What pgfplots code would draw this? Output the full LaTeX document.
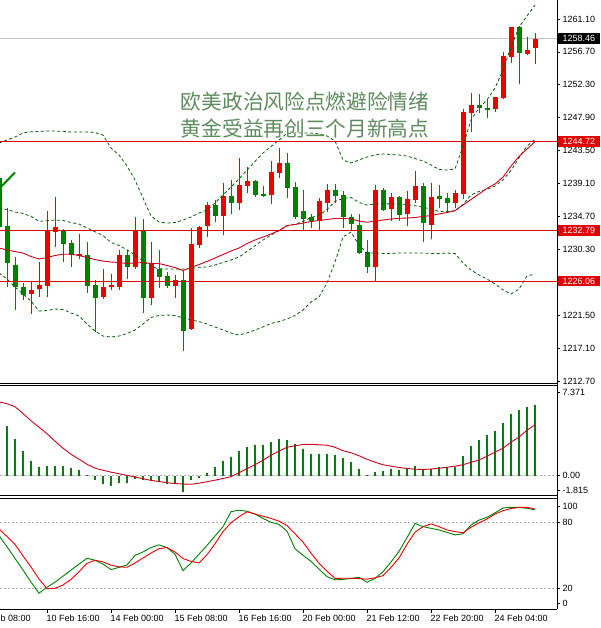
\documentclass[border=0pt]{standalone}
\usepackage{fontspec}
\setmainfont{Liberation Sans}
\newfontfamily\cjk{Noto Sans CJK SC}
\usepackage{pgfplots}
\pgfplotsset{compat=1.18}
\usepackage{pgfplotstable}

\definecolor{cR}{RGB}{235,0,0}
\definecolor{cG}{RGB}{0,128,0}
\definecolor{cBB}{RGB}{0,95,0}
\definecolor{cMA}{RGB}{205,0,25}
\definecolor{cLine}{RGB}{225,0,0}
\definecolor{cTxt}{RGB}{95,140,95}
\newcommand\lab{\fontsize{9}{10}\selectfont}

\pgfplotstableread{
x O H L C
3 1224.33 1225.94 1221.66 1224.87
4 1225.00 1228.61 1223.93 1225.53
5 1225.40 1235.43 1223.93 1232.75
6 1232.62 1237.30 1230.61 1233.29
9 1229.41 1232.35 1229.01 1229.68
12 1223.93 1227.67 1223.73 1225.27
13 1225.27 1227.00 1224.87 1225.47
14 1225.27 1230.21 1224.87 1229.55
16 1227.94 1234.63 1227.67 1232.89
18 1223.80 1231.28 1222.86 1228.48
21 1225.40 1226.87 1223.80 1226.14
23 1219.65 1233.16 1219.52 1231.02
24 1230.88 1233.42 1230.48 1233.29
25 1233.42 1236.63 1231.95 1236.23
27 1234.76 1239.17 1232.22 1237.43
29 1236.50 1242.52 1235.56 1238.90
30 1238.77 1241.31 1237.83 1239.44
33 1237.57 1242.11 1236.36 1240.64
34 1240.51 1243.85 1239.84 1241.85
39 1234.13 1237.13 1232.89 1236.81
40 1236.54 1239.04 1235.33 1238.24
46 1227.90 1238.90 1225.98 1238.24
48 1235.66 1237.79 1234.09 1237.30
50 1235.00 1238.10 1233.49 1236.99
51 1236.90 1240.82 1236.50 1238.77
53 1233.62 1239.13 1231.64 1237.34
56 1236.54 1238.24 1235.79 1237.77
57 1237.66 1249.03 1236.97 1248.71
58 1248.49 1251.17 1246.03 1249.60
61 1249.03 1250.71 1248.71 1250.63
62 1250.50 1256.73 1250.40 1256.15
63 1256.06 1260.07 1255.18 1259.99
65 1256.42 1258.73 1256.29 1256.96
66 1257.26 1259.27 1255.04 1258.46
}\redbars

\pgfplotstableread{
x O H L C
-1 1239.84 1240.20 1232.90 1233.29
0 1233.42 1235.83 1225.27 1228.48
1 1228.21 1229.28 1222.19 1225.27
2 1225.27 1225.80 1223.53 1224.20
7 1232.89 1233.02 1228.61 1231.02
8 1231.15 1231.55 1227.94 1229.55
10 1229.55 1231.28 1224.46 1225.40
11 1225.53 1226.20 1219.25 1223.80
15 1229.55 1230.21 1226.34 1227.94
17 1232.89 1234.36 1221.79 1223.80
19 1227.67 1230.21 1225.13 1226.60
20 1226.74 1227.27 1225.07 1225.40
22 1226.20 1227.54 1216.71 1219.38
26 1236.23 1236.90 1233.96 1234.76
28 1237.43 1239.51 1235.03 1236.50
31 1239.44 1239.57 1237.30 1237.57
32 1237.70 1238.77 1237.30 1237.50
35 1241.85 1243.12 1237.23 1238.57
36 1238.64 1239.31 1234.36 1234.63
37 1235.43 1238.24 1232.89 1234.36
38 1234.56 1235.03 1233.12 1234.13
41 1238.24 1239.04 1236.50 1237.43
42 1237.57 1238.10 1233.16 1234.67
43 1234.69 1235.03 1232.75 1233.65
44 1233.56 1235.03 1229.68 1229.81
45 1229.99 1231.55 1227.14 1227.90
47 1238.24 1238.46 1235.47 1235.56
49 1237.34 1237.43 1234.09 1234.96
52 1238.77 1239.17 1231.22 1233.78
54 1237.50 1238.90 1235.79 1236.99
55 1237.13 1237.83 1235.33 1236.46
59 1249.60 1251.03 1248.49 1249.16
60 1249.24 1250.36 1247.82 1248.93
64 1260.07 1260.16 1252.37 1256.51
}\greenbars

\pgfplotstableread{
x up mid lo ma
-1 1244.52 1235.83 1227.14 1230.48
0 1244.92 1235.63 1226.34 1230.21
1 1245.32 1235.30 1225.27 1230.01
2 1245.86 1235.10 1224.33 1229.81
3 1246.03 1234.71 1223.39 1229.34
4 1246.06 1234.06 1222.06 1229.01
5 1246.12 1234.12 1222.12 1229.21
6 1246.12 1234.22 1222.32 1229.48
7 1246.06 1234.16 1222.26 1229.65
8 1245.99 1233.89 1221.79 1229.64
9 1245.99 1233.69 1221.39 1229.48
10 1245.99 1233.16 1220.32 1229.21
11 1245.92 1232.65 1219.38 1228.94
12 1245.59 1232.15 1218.71 1228.74
13 1243.85 1231.22 1218.58 1228.61
14 1242.92 1230.82 1218.71 1228.54
15 1241.44 1230.25 1219.05 1228.41
16 1239.57 1229.55 1219.52 1228.48
17 1237.17 1228.75 1220.32 1228.54
18 1234.76 1227.98 1221.19 1228.41
19 1233.96 1227.71 1221.46 1228.41
20 1233.82 1227.67 1221.52 1228.14
21 1233.89 1227.68 1221.46 1227.87
22 1234.22 1227.67 1221.12 1227.47
23 1234.63 1227.74 1220.85 1227.87
24 1235.16 1227.91 1220.65 1228.27
25 1235.56 1227.94 1220.32 1228.68
26 1236.50 1228.21 1219.92 1229.14
27 1237.57 1228.55 1219.52 1229.61
28 1238.64 1228.88 1219.12 1230.08
29 1239.71 1229.28 1218.85 1230.48
30 1240.91 1230.02 1219.12 1231.08
31 1242.05 1230.79 1219.52 1231.55
32 1243.18 1231.55 1219.92 1231.95
33 1244.05 1232.22 1220.39 1232.35
34 1244.92 1232.79 1220.65 1232.82
35 1245.82 1233.41 1220.99 1233.49
36 1245.86 1233.66 1221.46 1233.62
37 1245.86 1234.03 1222.19 1233.82
38 1245.86 1234.56 1223.26 1234.02
39 1245.72 1234.83 1223.93 1234.16
40 1245.46 1235.63 1225.80 1234.29
41 1244.79 1236.70 1228.61 1234.43
42 1242.25 1237.10 1231.95 1234.43
43 1241.85 1237.24 1232.62 1234.36
44 1242.25 1236.57 1230.88 1234.09
45 1242.65 1236.23 1229.81 1233.92
46 1242.92 1236.37 1229.81 1234.09
47 1243.05 1236.40 1229.75 1234.22
48 1242.98 1236.37 1229.75 1234.36
49 1242.92 1236.37 1229.81 1234.45
50 1242.78 1236.30 1229.81 1234.49
51 1242.45 1236.13 1229.81 1234.56
52 1242.11 1235.96 1229.81 1234.69
53 1241.58 1235.67 1229.75 1234.83
54 1240.98 1235.37 1229.75 1235.03
55 1240.91 1235.36 1229.81 1235.23
56 1241.04 1235.40 1229.75 1235.49
57 1244.12 1236.30 1228.48 1236.23
58 1247.60 1237.57 1227.54 1236.97
59 1249.20 1238.04 1226.87 1237.70
60 1250.27 1238.31 1226.34 1238.46
61 1251.87 1238.77 1225.67 1239.04
62 1254.28 1239.58 1224.87 1239.97
63 1257.36 1240.85 1224.33 1241.44
64 1260.03 1242.52 1225.00 1242.72
65 1261.50 1244.12 1226.74 1243.72
66 1262.97 1244.99 1227.00 1244.69
}\bands

\pgfplotstableread{
x h
0 4.12
1 3.03
2 2.03
3 1.19
4 0.67
5 0.78
6 0.83
7 0.78
8 0.64
9 0.44
10 0.03
11 -0.34
12 -0.67
13 -0.89
14 -0.62
15 -0.62
16 -0.25
17 -0.39
18 -0.39
19 -0.48
20 -0.67
21 -0.67
22 -1.37
23 -0.39
24 -0.17
25 0.25
26 0.67
27 1.25
28 1.56
29 2.03
30 2.39
31 2.51
32 2.59
33 2.81
34 3.03
35 2.95
36 2.60
37 2.25
38 1.78
39 1.78
40 1.78
41 1.70
42 1.47
43 1.14
44 0.58
45 0.03
46 0.31
47 0.39
48 0.53
49 0.50
50 0.64
51 0.78
52 0.58
53 0.58
54 0.67
55 0.67
56 0.72
57 1.61
58 2.45
59 2.95
60 3.37
61 3.70
62 4.40
63 5.18
64 5.51
65 5.73
66 5.87
}\macdhist

\pgfplotstableread{
x s
-1 6.15
0 6.00
1 5.75
2 5.18
3 4.58
4 4.04
5 3.49
6 2.87
7 2.28
8 1.78
9 1.36
10 0.94
11 0.61
12 0.44
13 0.28
14 0.15
15 0.01
16 -0.13
17 -0.27
18 -0.41
19 -0.50
20 -0.60
21 -0.67
22 -0.71
23 -0.73
24 -0.64
25 -0.52
26 -0.39
27 -0.25
28 -0.10
29 0.23
30 0.57
31 0.90
32 1.28
33 1.70
34 2.03
35 2.36
36 2.49
37 2.59
38 2.61
39 2.57
40 2.53
41 2.36
42 2.07
43 1.90
44 1.65
45 1.36
46 1.11
47 0.90
48 0.78
49 0.67
50 0.59
51 0.53
52 0.50
53 0.54
54 0.61
55 0.69
56 0.78
57 0.90
58 1.11
59 1.29
60 1.61
61 1.95
62 2.28
63 2.78
64 3.22
65 3.78
66 4.24
}\macdsig

\pgfplotstableread{
x K D
-1 68 74
0 57.7 67
1 47.2 59.8
2 36.6 49.5
3 25.7 39.4
4 15.5 28.5
5 21 19.6
6 25.5 20
7 31 23
8 36.5 28
9 42 35
10 47.3 42.7
11 45.5 45.5
12 42 44
13 37 41
14 39 39.5
15 41.2 39.1
16 50 43
17 53 47.5
18 57 52
19 59.5 56
20 57 57
21 51 53
22 36 47
23 43 44.5
24 51 43
25 59 50.5
26 67.5 60.5
27 76 71.5
28 89.6 79.5
29 91 85
30 90 89.5
31 87.5 87.5
32 83.5 85.5
33 80 83.5
34 78 81
35 72 77
36 56 69.5
37 50 62
38 44.5 52
39 37.5 42.7
40 30.5 35.5
41 27.7 29
42 28 29.1
43 29 29.1
44 30 28.8
45 25.5 28.3
46 29 29.5
47 35 31.5
48 44 39
49 53.5 47.5
50 66 60
51 79 71
52 76 76
53 74.5 78.5
54 73 76
55 70.8 73
56 68.5 71.5
57 69.5 70.5
58 77.5 75.5
59 82 79.5
60 84.5 83
61 88.5 87.5
62 93 90.5
63 93.6 92.5
64 93.5 93.6
65 92.7 93.6
66 91.3 92
}\stoch

\begin{document}
\begin{tikzpicture}
\path[use as bounding box] (0pt,0pt) rectangle (601pt,628pt);
\fill[white] (0pt,0pt) rectangle (601pt,628pt);
\pgfplotsset{
  mt/.style={scale only axis, width=557pt, anchor=south west,
    xmin=-0.875, xmax=68.75,
    axis line style={draw=none},
    tick align=outside, major tick length=3pt,
    ytick pos=right, xtick pos=left,
    tick style={black, line width=0.7pt},
    yticklabel style={font=\lab, inner xsep=2.5pt, anchor=west},
    xtick=\empty},
  wick/.style={only marks, mark=*, mark size=0pt, mark options={draw=none, fill=none}, forget plot,
    error bars/.cd, y dir=plus, y explicit, error mark=none,
    error bar style={draw=#1, line width=1pt, solid}},
  body/.style={only marks, mark=*, mark size=0pt, mark options={draw=none, fill=none}, forget plot,
    error bars/.cd, y dir=plus, y explicit, error mark=none,
    error bar style={draw=#1, line width=5pt, solid, line cap=butt}},
  bb/.style={cBB, line width=0.8pt, dash pattern=on 3pt off 2.5pt},
}
% ---------------- main chart ----------------
\begin{axis}[mt, at={(0pt,244pt)}, height=384pt,
  ymin=1212.30, ymax=1263.64,
  ytick={1212.70,1217.10,1221.50,1230.30,1234.70,1239.10,1243.50,1247.90,1252.30,1256.70,1261.10},
  yticklabels={1212.70,1217.10,1221.50,1230.30,1234.70,1239.10,1243.50,1247.90,1252.30,1256.70,1261.10}]
\addplot[gray!45, line width=0.8pt, forget plot] coordinates {(-0.875,1258.46) (68.75,1258.46)};
\addplot[wick=cR] table[x=x, y=L, y error expr=\thisrow{H}-\thisrow{L}] {\redbars};
\addplot[body=cR] table[x=x, y=O, y error expr=\thisrow{C}-\thisrow{O}] {\redbars};
\addplot[wick=cG] table[x=x, y=L, y error expr=\thisrow{H}-\thisrow{L}] {\greenbars};
\addplot[body=cG] table[x=x, y=C, y error expr=\thisrow{O}-\thisrow{C}] {\greenbars};
\addplot[bb] table[x=x, y=up] {\bands};
\addplot[bb] table[x=x, y=mid] {\bands};
\addplot[bb] table[x=x, y=lo] {\bands};
\addplot[cMA, line width=0.9pt] table[x=x, y=ma] {\bands};
\addplot[cLine, line width=0.9pt] coordinates {(-0.875,1244.72) (68.75,1244.72)};
\addplot[cLine, line width=0.9pt] coordinates {(-0.875,1232.79) (68.75,1232.79)};
\addplot[cLine, line width=0.9pt] coordinates {(-0.875,1226.06) (68.75,1226.06)};
\draw[cG, line width=2pt] (axis cs:-0.66,1238.77) -- (axis cs:1.0,1240.58);
\coordinate (b1) at (axis cs:68.75,1258.46);
\coordinate (b2) at (axis cs:68.75,1244.72);
\coordinate (b3) at (axis cs:68.75,1232.79);
\coordinate (b4) at (axis cs:68.75,1226.06);
\end{axis}
% ---------------- MACD ----------------
\begin{axis}[mt, at={(0pt,132.5pt)}, height=109.5pt,
  ymin=-1.67, ymax=7.48,
  ytick={-1.21,0,6.95}, yticklabels={-1.815,0.00,7.371}]
\addplot[gray!60, line width=0.7pt, dash pattern=on 2pt off 2pt, forget plot] coordinates {(-0.875,0) (68.75,0)};
\addplot[ycomb, cG, line width=1.6pt, mark=none] table[x=x, y=h] {\macdhist};
\addplot[cMA, line width=0.9pt, mark=none] table[x=x, y=s] {\macdsig};
\end{axis}
% ---------------- Stochastic ----------------
\begin{axis}[mt, at={(0pt,18.5pt)}, height=111pt,
  ymin=0.73, ymax=101.6,
  ytick={6.6,20,80,94.8}, yticklabels={0,20,80,100},
  xtick={5,13,21,29,37,45,53,61},
  xticklabels={10 Feb 16:00,14 Feb 00:00,15 Feb 08:00,16 Feb 16:00,20 Feb 00:00,21 Feb 12:00,22 Feb 20:00,24 Feb 04:00},
  xticklabel style={font=\lab, anchor=north west, inner sep=0pt, xshift=-0.5pt, yshift=-2pt}]
\addplot[gray!60, line width=0.7pt, dash pattern=on 2pt off 2pt, forget plot] coordinates {(-0.875,80) (68.75,80)};
\addplot[gray!60, line width=0.7pt, dash pattern=on 2pt off 2pt, forget plot] coordinates {(-0.875,20) (68.75,20)};
\addplot[cG, line width=0.9pt, mark=none] table[x=x, y=K] {\stoch};
\addplot[cR, line width=0.9pt, mark=none] table[x=x, y=D] {\stoch};
\coordinate (xl0) at (axis cs:-3,0.73);
\end{axis}
% frames
\draw[black, line width=1pt] (557pt,628pt) -- (557pt,18.5pt);
\draw[black, line width=1pt] (0pt,244pt) -- (557pt,244pt);
\draw[black, line width=1pt] (0pt,242pt) -- (557pt,242pt);
\draw[black, line width=1pt] (0pt,132.5pt) -- (557pt,132.5pt);
\draw[black, line width=1pt] (0pt,129.5pt) -- (557pt,129.5pt);
\draw[black, line width=1pt] (0pt,18.5pt) -- (557pt,18.5pt);
% price boxes
\node[fill=black, text=white, anchor=west, inner xsep=4.5pt, inner ysep=0pt, minimum height=10.5pt, font=\lab] at ([xshift=1pt]b1) {1258.46};
\node[fill=cLine, text=white, anchor=west, inner xsep=4.5pt, inner ysep=0pt, minimum height=10.5pt, font=\lab] at ([xshift=1pt]b2) {1244.72};
\node[fill=cLine, text=white, anchor=west, inner xsep=4.5pt, inner ysep=0pt, minimum height=10.5pt, font=\lab] at ([xshift=1pt]b3) {1232.79};
\node[fill=cLine, text=white, anchor=west, inner xsep=4.5pt, inner ysep=0pt, minimum height=10.5pt, font=\lab] at ([xshift=1pt]b4) {1226.06};
% first (cut) date label, as in the reference
\node[font=\lab, anchor=north west, inner sep=0pt] at ([xshift=-0.5pt, yshift=-5pt]xl0) {9 Feb 08:00};
% headline
\node[anchor=base west, inner sep=0pt, text=cTxt, font={\cjk\fontsize{20.7}{24}\selectfont}] at (180.7pt,518.5pt) {欧美政治风险点燃避险情绪};
\node[anchor=base west, inner sep=0pt, text=cTxt, font={\cjk\fontsize{20.7}{24}\selectfont}] at (180.7pt,491.7pt) {黄金受益再创三个月新高点};
\end{tikzpicture}
\end{document}
